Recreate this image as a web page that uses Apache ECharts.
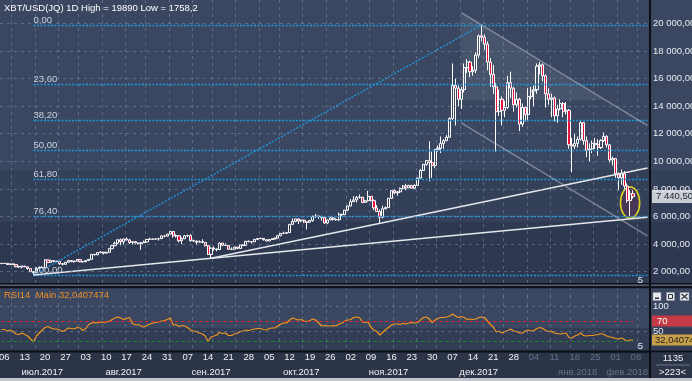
<!DOCTYPE html>
<html><head><meta charset="utf-8">
<script src="https://cdn.jsdelivr.net/npm/echarts@6/dist/echarts.min.js"></script>
<style>html,body{margin:0;padding:0;background:#2c3447;overflow:hidden}#c{width:692px;height:381px}</style>
</head><body><div id="c"></div>
<script>
// ---------- data ----------
const symbolTitle = 'XBT/USD(JQ) 1D';
const rangeHigh = 19890;
const rangeLow = 1758.2;
const firstDay = '2017-07-05';
const dayCount = 223;          // visible bars
const barCountLabel = '1135';
const opens = [2600,2590,2605,2515,2565,2510,2360,2330,2400,2350,
2220,1995,1920,2230,2310,2280,2850,2670,2800,2740,
2755,2580,2530,2680,2800,2730,2760,2870,2720,2710,
2800,2890,3250,3220,3380,3420,3340,3400,3660,3880,
4060,4310,4170,4370,4300,4110,4170,4080,4020,4100,
4150,4330,4370,4350,4380,4390,4590,4570,4720,4910,
4590,4600,4240,4380,4600,4610,4240,4220,4140,4170,
4120,3880,3250,3700,3640,3600,4070,3910,3900,3620,
3620,3780,3680,3930,3890,4200,4180,4160,4340,4400,
4410,4310,4220,4330,4370,4430,4610,4770,4780,4830,
5430,5640,5820,5680,5730,5600,5580,5710,6010,6030,
6000,5920,5530,5750,5900,5780,5760,6150,6130,6460,
6760,7070,7200,7380,7400,7020,7140,7460,7150,6620,
6360,5950,6560,6640,7320,7870,7710,7790,8040,8210,
8080,8250,8050,8250,8780,9330,9780,10050,9900,9700,
10850,10950,11300,11500,11750,13100,15500,15300,14500,15200,
16800,17200,16500,16600,17700,19100,19000,18500,17200,16300,
15400,13600,14500,13700,13900,15700,15300,14100,14500,12700,
13900,13400,14700,15100,15200,16900,17000,16200,14900,14500,
14600,13300,13800,14200,13600,13700,11200,11100,11300,11600,
12800,11500,10800,10900,11300,11200,11000,11500,11800,11200,
10100,10200,9100,8800,9100,8200,7150,7650];
const highs = [2620,2620,2615,2575,2580,2525,2420,2420,2420,2360,
2230,2050,2240,2380,2400,2900,2860,2860,2820,2780,
2770,2620,2700,2850,2810,2790,2900,2920,2760,2820,
2900,3280,3290,3420,3480,3430,3450,3700,3950,4180,
4330,4400,4390,4480,4370,4200,4200,4100,4150,4250,
4350,4450,4380,4400,4400,4620,4630,4740,4970,4930,
4710,4620,4480,4660,4680,4720,4320,4260,4270,4350,
4130,3900,3760,3820,3680,4100,4080,4050,3910,3760,
3800,3790,3960,3970,4220,4260,4200,4360,4410,4470,
4430,4340,4360,4420,4460,4630,4790,4900,4860,5450,
5850,5840,5850,5780,5770,5610,5720,6060,6180,6070,
6050,5930,5760,5980,6000,5860,6280,6200,6470,6780,
7260,7470,7490,7600,7420,7220,7860,7480,7240,6830,
6500,6780,6730,7330,7900,8000,7860,8100,8290,8370,
8300,8290,8330,8800,9450,9800,10100,11450,10700,10900,
11150,11800,11600,11900,13200,17100,16000,15500,15400,17100,
17400,17300,16900,17900,19200,19890,19200,18700,17500,17000,
15700,15200,14700,14400,16200,16500,15400,15000,14600,14200,
14000,15300,15400,15500,17100,17200,17100,16300,15300,14900,
14700,14100,14500,14300,14300,13800,11700,12000,11800,13000,
12850,11800,11300,11500,11700,11600,11600,12100,11900,11250,
10350,10250,9200,9400,9300,8400,7900,7900];
const lows = [2540,2560,2500,2480,2500,2310,2260,2240,2330,2150,
1970,1758.2,1915,2200,2260,2270,2620,2650,2680,2720,
2480,2450,2520,2670,2690,2650,2750,2680,2660,2700,
2780,2880,3180,3200,3360,3250,3330,3390,3640,3850,
3990,3900,3960,4260,4000,3960,4040,3980,3580,4080,
4120,4300,4300,4330,4250,4370,4480,4560,4700,4470,
4460,4120,3990,4370,4500,4170,4170,3950,4120,4060,
3820,3200,2966,3520,3480,3590,3850,3870,3590,3570,
3600,3660,3680,3860,3880,4130,4030,4150,4300,4380,
4260,4200,4210,4320,4340,4420,4560,4740,4730,4820,
5380,5580,5450,5580,5530,5050,5560,5620,5900,5840,
5700,5470,5450,5740,5710,5690,5680,6040,6110,6380,
6750,7040,7020,7300,6960,6990,7080,7090,6450,6320,
5500,5860,6520,6630,7270,7600,7500,7700,7960,7900,
8080,8030,8000,8220,8760,9330,9680,8550,8800,9500,
10700,10600,10900,11450,11700,13000,12600,14000,13800,15000,
16400,16100,16200,16400,17500,18700,18100,16600,15400,14900,
10700,13300,12600,13200,13800,14600,13600,13900,12200,12500,
12900,12900,14500,14000,14900,16300,15800,13900,14100,13200,
12900,12800,13700,13200,13400,10900,9200,10900,11000,11500,
11200,10300,10000,10600,10900,10400,10900,11400,11000,9900,
9700,8800,7900,8300,7900,7000,5950,7300];
const closes = [2590,2605,2515,2565,2510,2360,2330,2400,2350,2220,
1995,1920,2230,2310,2280,2850,2670,2800,2740,2755,
2580,2530,2680,2800,2730,2760,2870,2720,2710,2800,
2890,3250,3220,3380,3420,3340,3400,3660,3880,4060,
4310,4170,4370,4300,4110,4170,4080,4020,4100,4150,
4330,4370,4350,4380,4390,4590,4570,4720,4910,4590,
4600,4240,4380,4600,4610,4240,4220,4140,4170,4120,
3880,3250,3700,3640,3600,4070,3910,3900,3620,3620,
3780,3680,3930,3890,4200,4180,4160,4340,4400,4410,
4310,4220,4330,4370,4430,4610,4770,4780,4830,5430,
5640,5820,5680,5730,5600,5580,5710,6010,6030,6000,
5920,5530,5750,5900,5780,5760,6150,6130,6460,6760,
7070,7200,7380,7400,7020,7140,7460,7150,6620,6360,
5950,6560,6640,7320,7870,7710,7790,8040,8210,8080,
8250,8050,8250,8780,9330,9780,10050,9900,9700,10850,
10950,11300,11500,11750,13100,15500,15300,14500,15200,16800,
17200,16500,16600,17700,19100,19000,18500,17200,16300,15400,
13600,14500,13700,13900,15700,15300,14100,14500,12700,13900,
13400,14700,15100,15200,16900,17000,16200,14900,14500,14600,
13300,13800,14200,13600,13700,11200,11100,11300,11600,12800,
11500,10800,10900,11300,11200,11000,11500,11800,11200,10100,
10200,9100,8800,9100,8200,7150,7650,7440.5];
const rsi14 = [53,53,50,52,49,44,43,46,43,40,
34,28,40,46,52,57,59,56,54,54,
52,49,52,56,55,54,57,56,51,55,
63,66,67,66,68,67,68,69,73,76,
78,76,73,75,77,65,62,63,60,58,
61,64,66,67,68,70,71,73,76,62,
63,59,61,60,57,52,50,49,46,44,
40,29,38,40,42,47,45,46,41,41,
44,45,49,50,52,51,53,54,55,55,
53,52,55,56,56,60,64,66,66,72,
76,74,72,73,70,69,71,74,72,66,
60,61,60,60,61,60,64,66,70,72,
73,77,78,77,68,67,68,57,52,49,
42,47,53,57,62,64,64,63,65,64,
66,67,66,67,72,77,78,74,67,72,
75,77,77,78,80,84,80,77,79,77,
73,74,73,74,77,78,77,70,63,58,
48,50,46,49,51,54,50,49,46,46,
50,52,50,51,55,57,55,51,49,50,
46,45,44,45,46,37,36,40,42,46,
41,40,41,41,42,43,45,43,40,38,
37,35,34,36,33,29,32,32.0407474];
const rsiLastText = '32,0407474';
const rsiLevels = [70, 30];
// Fibonacci retracement (ratio labels and their price levels)
const fibLabels = ['0,00','23,60','38,20','50,00','61,80','76,40','100,00'];
const fibPrices = [19890, 15611, 12964, 10824, 8684, 6037, 1758.2];
const fibStartDate = '2017-07-16';
const fibDiagonal = [['2017-07-16', 1758.2], ['2017-12-17', 19890]];
// trend lines (date, price) pairs
const trendLines = [
  [['2017-07-16', 1758.2], ['2018-02-12', 5936]],
  [['2017-09-15', 2966], ['2018-02-12', 9516]]
];
const channelLines = [
  [['2017-12-10', 20786], ['2018-02-12', 12594]],
  [['2017-12-10', 12786], ['2018-02-12', 4594]]
];
const channelShade = [['2017-12-10', 20786], ['2018-01-28', 14447], ['2017-12-10', 14447]];
const ellipseMark = ['2018-02-06', 7000, 3.3, 1130]; // centre date, centre price, half-width (days), half-height (price)
const monthLabels = {'2017-07-19':'июл.2017','2017-08-16':'авг.2017','2017-09-15':'сен.2017','2017-10-16':'окт.2017',
  '2017-11-15':'ноя.2017','2017-12-16':'дек.2017','2018-01-19':'янв.2018','2018-02-05':'фев.2018'};
const monthBands = [['2017-08-01','2017-09-01'],['2017-10-01','2017-11-01'],['2017-12-01','2018-01-01']];
const futureFrom = '2018-01-01';

// ---------- helpers ----------
const dates = [];
(function(){ const d0 = new Date(firstDay + 'T00:00:00Z');
  for (let i = 0; i < dayCount; i++) dates.push(new Date(d0.getTime() + i*86400000).toISOString().slice(0,10)); })();
const lastDate = dates[dates.length-1];
const lastDataDate = dates[closes.length-1];
const candles = closes.map((c,i)=>[opens[i], c, lows[i], highs[i]]);
function fmt(v){ const p = v.toFixed(2).split('.'); return p[0].replace(/\B(?=(\d{3})+(?!\d))/g,' ') + ',' + p[1]; }
const FONT = '"Liberation Sans", Arial, sans-serif';
const FS = 9.5;
const gridCol = 'rgba(120,136,165,0.55)';
const vStep = 7.674, vFirst = 4.37;
function vGrid(i){ const k = Math.round((i - vFirst)/vStep); return Math.round(vFirst + k*vStep) === i; }
const idx = d => dates.indexOf(d);

const fibStyle = {color:'#1e96dc', width:1.4, type:[2,1.5]};
const trendStyle = {color:'#e4e7ec', width:1.5, type:'solid'};
const chanStyle = {color:'rgba(205,210,222,0.45)', width:1.5, type:'solid'};
const annData = [];
fibPrices.forEach((p,i)=>annData.push([{coord:[fibStartDate,p], lineStyle:fibStyle,
  label:{show:true, position:'insideStartTop', formatter:fibLabels[i], color:'#c8d3e3', fontSize:FS, fontFamily:FONT, distance:0}},
  {coord:[lastDate,p]}]));
annData.push([{coord:fibDiagonal[0], lineStyle:fibStyle}, {coord:fibDiagonal[1]}]);
trendLines.forEach(t=>annData.push([{coord:t[0], lineStyle:trendStyle}, {coord:t[1]}]));
channelLines.forEach(t=>annData.push([{coord:t[0], lineStyle:chanStyle}, {coord:t[1]}]));
annData.push({yAxis: closes[closes.length-1], lineStyle:{color:'rgba(0,0,0,0)', width:0},
  label:{show:true, position:'end', formatter: fmt(closes[closes.length-1]), backgroundColor:'#c9cdd4', color:'#1b2230',
    padding:[2,6,1,4], distance:3, fontSize:FS, fontFamily:FONT}});

const rsiMark = [
  [{coord:[dates[0],rsiLevels[0]], lineStyle:{color:'#e1252c', type:[3,3], width:1}}, {coord:[lastDataDate,rsiLevels[0]]}],
  [{coord:[dates[0],rsiLevels[1]], lineStyle:{color:'#1c8c2a', type:[3,3], width:1}}, {coord:[lastDataDate,rsiLevels[1]]}],
  {yAxis:rsiLevels[0], lineStyle:{color:'rgba(0,0,0,0)', width:0},
    label:{show:true, position:'end', formatter:String(rsiLevels[0]), backgroundColor:'#c53a44', color:'#ffffff', padding:[1,30,0,5], distance:3, fontSize:FS, fontFamily:FONT}},
  {yAxis:rsi14[rsi14.length-1], lineStyle:{color:'rgba(0,0,0,0)', width:0},
    label:{show:true, position:'end', formatter:rsiLastText, backgroundColor:'#c9a04a', color:'#1a1a1a', padding:[1,4,0,3], distance:3, fontSize:FS, fontFamily:FONT}}
];

const stripMarks = monthBands.map(b=>[{xAxis:b[0], yAxis:0, itemStyle:{color:'#434e66'}}, {xAxis:b[1], yAxis:0.5}]);
stripMarks.push([{xAxis:futureFrom, yAxis:0, itemStyle:{color:'#2f374a', borderColor:'#1a202c', borderWidth:1}}, {xAxis:lastDate, yAxis:1}]);

const bright = '#eef1f5', dim = '#66728a';

// ---------- graphics ----------
const rect = (x,y,w,h,fill,z,extra)=>Object.assign({type:'rect', shape:{x:x,y:y,width:w,height:h}, style:{fill:fill}, z:z, silent:true}, extra||{});
const text = (x,y,t,fill,align,z)=>({type:'text', x:x, y:y, z:z||30, silent:true,
  style:{text:t, fill:fill, font:FS+'px '+FONT, textAlign:align||'left', align:align||'left', textVerticalAlign:'middle', verticalAlign:'middle'}});
const graphics = [
  rect(0,0,692,170,'#3b4760',-10), rect(0,170,692,52,'#343f58',-10), rect(0,222,692,62,'#2e3850',-10),
  rect(0,288,692,40,'#3b4760',-10), rect(0,328,692,24,'#323c54',-10),
  rect(0,283,692,1.5,'#0b0e14',25), rect(0,284.5,692,1.8,'#525b6e',25), rect(0,286.3,692,1.9,'#0b0e14',25),
  rect(0,350.5,692,2,'#0b0e14',25),
  rect(0,352.5,692,26,'#2c3447',5),
  rect(649,0,2,379,'#0b0e14',40),
  rect(651,352.5,41,26,'#2c3447',35),
  rect(656,364.5,34,1,'#6a7489',36),
  rect(0,378,692,3,'#c2c6cc',45),
  text(4,8, symbolTitle + ' High = ' + rangeHigh + ' Low = ' + String(rangeLow).replace('.',','), '#ffffff'),
  text(4,295,'RSI14  Main ' + rsiLastText, '#ef8f25'),
  text(640.5,280,'5','#e8ecf2','center'),
  text(640.5,346.5,'5','#e8ecf2','center'),
  text(673,358, barCountLabel, bright,'center',37),
  text(672.5,372,'>' + dayCount + '<', bright,'center',37),
  rect(653,292.5,8,8,'#e6e8ec',30,{style:{fill:'#e6e8ec', stroke:'#8a93a3', lineWidth:0.5}}),
  rect(655,297.5,4,1.5,'#2a2f3a',31),
  rect(666.5,292.5,8,8,'#e6e8ec',30,{style:{fill:'#e6e8ec', stroke:'#8a93a3', lineWidth:0.5}}),
  rect(668.5,294.5,4,4,'#e6e8ec',31,{style:{fill:'#e6e8ec', stroke:'#2a2f3a', lineWidth:1}}),
  rect(680,292.5,9,8,'#e6e8ec',30,{style:{fill:'#e6e8ec', stroke:'#8a93a3', lineWidth:0.5}}),
  {type:'line', z:31, silent:true, shape:{x1:681.5,y1:294,x2:687.5,y2:299}, style:{stroke:'#2a2f3a', lineWidth:1.2}},
  {type:'line', z:31, silent:true, shape:{x1:687.5,y1:294,x2:681.5,y2:299}, style:{stroke:'#2a2f3a', lineWidth:1.2}}
];

const hiddenCat = (g)=>({type:'category', gridIndex:g, data:dates, boundaryGap:true,
  axisLine:{show:false}, axisTick:{show:false}, axisLabel:{show:false},
  splitLine:{show:true, interval:vGrid, lineStyle:{color:gridCol, type:[3,4], width:1}}});

const option = {
  animation:false,
  backgroundColor:'#2c3447',
  textStyle:{fontFamily:FONT},
  graphic:{elements:graphics},
  grid:[
    {left:0, top:0, width:649, height:299.2, containLabel:false, outerBoundsMode:'none'},
    {left:0, top:296, width:649, height:60, containLabel:false, outerBoundsMode:'none'},
    {left:0, top:352.5, width:649, height:25.5, containLabel:false, outerBoundsMode:'none'}
  ],
  xAxis:[
    hiddenCat(0), hiddenCat(1),
    {type:'category', gridIndex:2, data:dates, position:'top', z:10,
      axisLine:{show:false}, axisTick:{show:false}, splitLine:{show:false},
      axisLabel:{inside:true, margin:0, interval:(i)=> (i-1)%7===0, formatter:v=>v.slice(8),
        color:(v)=> v>=futureFrom?dim:bright, fontSize:FS, fontFamily:FONT}},
    {type:'category', gridIndex:2, data:dates, position:'bottom', z:10,
      axisLine:{show:false}, axisTick:{show:false}, splitLine:{show:false},
      axisLabel:{inside:true, margin:1, interval:(i,v)=> !!monthLabels[v], formatter:v=>monthLabels[v]||'',
        color:(v)=> v>=futureFrom?dim:bright, fontSize:FS, fontFamily:FONT}}
  ],
  yAxis:[
    {type:'value', gridIndex:0, position:'right', min:0, max:21700, interval:2000, z:10,
      axisLine:{show:false}, axisTick:{show:false},
      axisLabel:{formatter:fmt, color:'#e6eaf0', fontSize:FS, fontFamily:FONT, margin:4, showMinLabel:false, showMaxLabel:false},
      splitLine:{show:true, showMinLine:false, showMaxLine:false, lineStyle:{color:gridCol, type:[3,4], width:1}}},
    {type:'value', gridIndex:1, position:'right', min:0, max:120, interval:50, z:10,
      axisLine:{show:false}, axisTick:{show:false},
      axisLabel:{formatter:v=>String(v), color:'#e6eaf0', fontSize:FS, fontFamily:FONT, margin:4, showMinLabel:false, showMaxLabel:false},
      splitLine:{show:true, showMinLine:false, showMaxLine:false, lineStyle:{color:gridCol, type:[3,4], width:1}}},
    {type:'value', gridIndex:2, min:0, max:1, show:false}
  ],
  series:[
    {type:'custom', xAxisIndex:0, yAxisIndex:0, z:1, silent:true, data:[[0,0]],
      renderItem:(params, api)=>({type:'polygon', shape:{points: channelShade.map(p=>api.coord([idx(p[0]), p[1]]))},
        style:{fill:'rgba(255,255,255,0.07)'}})},
    {type:'custom', xAxisIndex:0, yAxisIndex:0, z:1, silent:true,
      data:[[idx(ellipseMark[0]), ellipseMark[1], ellipseMark[2], ellipseMark[3]]],
      renderItem:(params, api)=>{ const c = api.coord([api.value(0), api.value(1)]);
        const bw = api.size([1, 0])[0]; const ry = Math.abs(api.coord([api.value(0), api.value(1)+api.value(3)])[1] - c[1]);
        return {type:'ellipse', shape:{cx:c[0], cy:c[1], rx:bw*api.value(2), ry:ry},
          style:{fill:'rgba(88,48,86,0.55)', stroke:'#e2dc1c', lineWidth:1.5}}; }},
    {type:'line', xAxisIndex:0, yAxisIndex:0, z:2, data:[], silent:true,
      markLine:{silent:true, symbol:['none','none'], animation:false, label:{show:false}, data:annData}},
    {type:'candlestick', xAxisIndex:0, yAxisIndex:0, z:3, data:candles, barWidth:2.6,
      itemStyle:{color:'rgba(0,0,0,0)', color0:'#e8123e', borderColor:'#ffffff', borderColor0:'#ffffff', borderWidth:1}},
    {type:'line', xAxisIndex:1, yAxisIndex:1, z:3, data:rsi14, showSymbol:false, symbol:'none',
      lineStyle:{color:'#f0951e', width:1.2},
      markLine:{silent:true, symbol:['none','none'], animation:false, label:{show:false}, data:rsiMark}},
    {type:'line', xAxisIndex:2, yAxisIndex:2, z:9, data:[], silent:true,
      markArea:{silent:true, data:stripMarks}}
  ]
};
const chart = echarts.init(document.getElementById('c'), null, {renderer:'canvas', width:692, height:381});
chart.setOption(option);
</script>
</body></html>
